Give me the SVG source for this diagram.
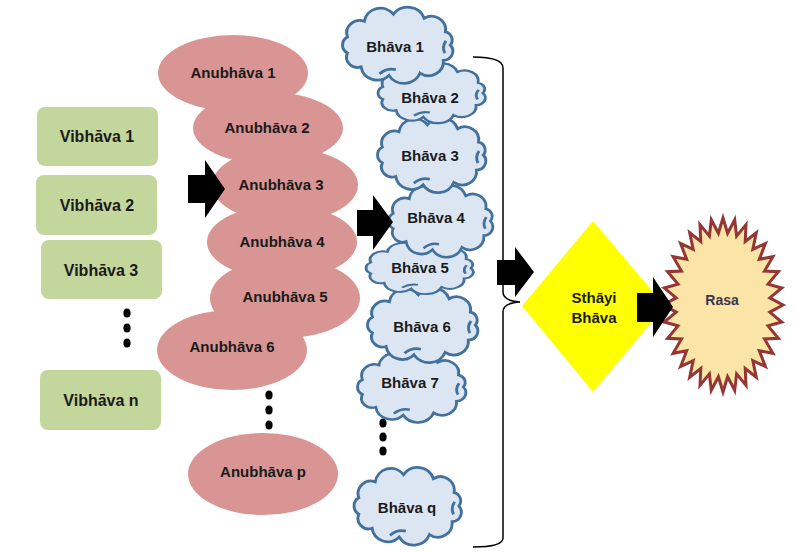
<svg xmlns="http://www.w3.org/2000/svg" xmlns:xlink="http://www.w3.org/1999/xlink" width="794" height="552" viewBox="0 0 794 552">
<defs>
<style>
text{font-family:"Liberation Sans",Arial,sans-serif;font-weight:bold;fill:#1a1a1a;text-anchor:middle}
.vib{fill:#C3D69B}
.anu{fill:#D99594}
.cloud{fill:#DCE6F2;stroke:#41719C;stroke-width:2.7;vector-effect:non-scaling-stroke}
.inner{fill:none;stroke:#41719C;stroke-width:2.7;vector-effect:non-scaling-stroke}
.dot{fill:#000}
.arrow{fill:#000}
.t15{font-size:15px}
.t16{font-size:16px}
</style>
<path id="cloudShape" d="M48 0 A9 9 0 0 1 41.6 15 A13.5 13.5 0 0 1 20.3 27.2 A16 16 0 0 1 -8.3 29.5 A15 15 0 0 1 -33.9 21.2 A10 10 0 0 1 -46.4 7.8 A9 9 0 0 1 -46.4 -7.8 A12 12 0 0 1 -30.9 -23 A15 15 0 0 1 -4.2 -29.9 A16 16 0 0 1 24 -26 A13 13 0 0 1 43.5 -12.7 A8 8 0 0 1 48 0 Z"/>
<path id="cloudInner" d="M-17 28 Q-10 22 -2 24 M44 -4 Q40 2 43 8"/>
</defs>

<!-- Vibhava nodes -->
<g id="vibhava1"><rect class="vib" x="37" y="107" width="121" height="59" rx="8"/><text class="t16" x="97" y="142">Vibhāva 1</text></g>
<g id="vibhava2"><rect class="vib" x="36" y="175" width="121" height="60" rx="8"/><text class="t16" x="97" y="211">Vibhāva 2</text></g>
<g id="vibhava3"><rect class="vib" x="41" y="240" width="121" height="59" rx="8"/><text class="t16" x="101" y="276">Vibhāva 3</text></g>
<g id="vibhavaDots"><ellipse class="dot" cx="127" cy="313" rx="3.6" ry="4.5"/><ellipse class="dot" cx="127" cy="328" rx="3.6" ry="4.5"/><ellipse class="dot" cx="127" cy="343" rx="3.6" ry="4.5"/></g>
<g id="vibhavaN"><rect class="vib" x="40" y="370" width="121" height="60" rx="8"/><text class="t16" x="101" y="406">Vibhāva n</text></g>

<!-- Anubhava nodes -->
<g id="anubhava1"><ellipse class="anu" cx="233" cy="73" rx="75" ry="38"/><text class="t15" x="233" y="78">Anubhāva 1</text></g>
<g id="anubhava2"><ellipse class="anu" cx="268" cy="128" rx="75" ry="36"/><text class="t15" x="267" y="133">Anubhāva 2</text></g>
<g id="anubhava3"><ellipse class="anu" cx="285" cy="185" rx="73" ry="37"/><text class="t15" x="281" y="190">Anubhāva 3</text></g>
<g id="anubhava4"><ellipse class="anu" cx="282" cy="242" rx="75" ry="37"/><text class="t15" x="282" y="247">Anubhāva 4</text></g>
<g id="anubhava5"><ellipse class="anu" cx="285" cy="298" rx="75" ry="40"/><text class="t15" x="285" y="302">Anubhāva 5</text></g>
<g id="anubhava6"><ellipse class="anu" cx="232" cy="350" rx="75" ry="40"/><text class="t15" x="232" y="352">Anubhāva 6</text></g>
<g id="anubhavaDots"><ellipse class="dot" cx="269" cy="395" rx="3.6" ry="4.5"/><ellipse class="dot" cx="269" cy="410" rx="3.6" ry="4.5"/><ellipse class="dot" cx="269" cy="425" rx="3.6" ry="4.5"/></g>
<g id="anubhavaP"><ellipse class="anu" cx="263" cy="474" rx="75" ry="41"/><text class="t15" x="263" y="477">Anubhāva p</text></g>

<!-- Bhava nodes (drawn bottom-up so upper clouds overlap lower ones) -->
<g id="bhavaQ"><g transform="translate(408 506) scale(1.06 1.05)"><use xlink:href="#cloudShape" class="cloud"/><use xlink:href="#cloudInner" class="inner"/></g><text class="t15" x="407" y="513">Bhāva q</text></g>
<g id="bhavaDots"><ellipse class="dot" cx="383" cy="423" rx="3.6" ry="4.5"/><ellipse class="dot" cx="383" cy="437" rx="3.6" ry="4.5"/><ellipse class="dot" cx="383" cy="451" rx="3.6" ry="4.5"/></g>
<g id="bhava7"><g transform="translate(412 387) scale(1.07 0.95)"><use xlink:href="#cloudShape" class="cloud"/><use xlink:href="#cloudInner" class="inner"/></g><text class="t15" x="410" y="388">Bhāva 7</text></g>
<g id="bhava6"><g transform="translate(423 325) scale(1.09 1.01)"><use xlink:href="#cloudShape" class="cloud"/><use xlink:href="#cloudInner" class="inner"/></g><text class="t15" x="422" y="332">Bhāva 6</text></g>
<g id="bhava5"><g transform="translate(420 268) scale(1.06 0.7)"><use xlink:href="#cloudShape" class="cloud"/><use xlink:href="#cloudInner" class="inner"/></g><text class="t15" x="420" y="273">Bhāva 5</text></g>
<g id="bhava4"><g transform="translate(441 221) scale(1.03 0.97)"><use xlink:href="#cloudShape" class="cloud"/><use xlink:href="#cloudInner" class="inner"/></g><text class="t15" x="436" y="223">Bhāva 4</text></g>
<g id="bhava3"><g transform="translate(432 155) scale(1.07 1.01)"><use xlink:href="#cloudShape" class="cloud"/><use xlink:href="#cloudInner" class="inner"/></g><text class="t15" x="430" y="161">Bhāva 3</text></g>
<g id="bhava2"><g transform="translate(432 93) scale(1.06 0.81)"><use xlink:href="#cloudShape" class="cloud"/><use xlink:href="#cloudInner" class="inner"/></g><text class="t15" x="430" y="103">Bhāva 2</text></g>
<g id="bhava1"><g transform="translate(398 45) scale(1.09 1.03)"><use xlink:href="#cloudShape" class="cloud"/><use xlink:href="#cloudInner" class="inner"/></g><text class="t15" x="395" y="52">Bhāva 1</text></g>

<!-- Sthayi Bhava -->
<g id="sthayiBhava"><polygon points="593,221 665,306 593,392 522,306" fill="#FFFF00"/><text class="t15" x="594" y="303">Sthāyi</text><text class="t15" x="594" y="323">Bhāva</text></g>

<!-- Rasa -->
<g id="rasa"><polygon fill="#FBE5A6" stroke="#943634" stroke-width="3" stroke-linejoin="miter" points="723,218 727.6,233.3 734.7,219.7 736.6,236.1 746,224.6 745.2,241.5 756.3,232.7 752.8,249.3 765.4,243.5 759.3,259.3 772.9,256.7 764.5,271.1 778.4,271.7 768,284.1 781.8,288 769.8,297.9 783,305 769.8,312.1 781.8,322 768,325.9 778.4,338.3 764.5,338.9 772.9,353.3 759.3,350.7 765.4,366.5 752.8,360.7 756.3,377.3 745.2,368.5 746,385.4 736.6,373.9 734.7,390.3 727.6,376.7 723,392 718.4,376.7 711.3,390.3 709.4,373.9 700,385.4 700.8,368.5 689.7,377.3 693.2,360.7 680.6,366.5 686.7,350.7 673.1,353.3 681.5,338.9 667.6,338.3 678,325.9 664.2,322 676.2,312.1 663,305 676.2,297.9 664.2,288 678,284.1 667.6,271.7 681.5,271.1 673.1,256.7 686.7,259.3 680.6,243.5 693.2,249.3 689.7,232.7 700.8,241.5 700,224.6 709.4,236.1 711.3,219.7 718.4,233.3"/><text x="722" y="305" style="font-size:14px;fill:#3a3553">Rasa</text></g>

<!-- Connectors -->
<g id="connectors">
<path id="brace" d="M473 57 Q503 57 503 68 L503 292 Q503 301 520 302 Q503 303 503 312 L503 538 Q503 547 473 547" fill="none" stroke="#000" stroke-width="1.5"/>
<polygon class="arrow" points="188,175 205,175 205,160 225,189 205,218 205,203 188,203"/>
<polygon class="arrow" points="357,210 373,210 373,195 393,222 373,250 373,236 357,236"/>
<polygon class="arrow" points="497,260 515,260 515,247 534,272 515,297 515,285 497,285"/>
<polygon class="arrow" points="637,293 653,293 653,277 673,307 653,337 653,322 637,322"/>
</g>
</svg>
